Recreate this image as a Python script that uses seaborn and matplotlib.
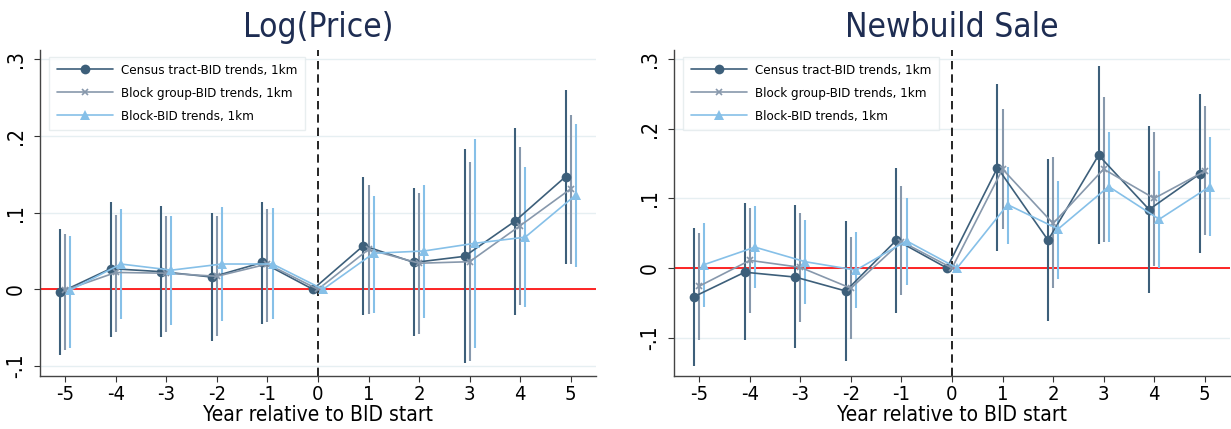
import numpy as np
import pandas as pd
import matplotlib
matplotlib.use("Agg")
import matplotlib.pyplot as plt
import seaborn as sns

years = [-5, -4, -3, -2, -1, 0, 1, 2, 3, 4, 5]
series_names = ["Census tract-BID trends, 1km",
                "Block group-BID trends, 1km",
                "Block-BID trends, 1km"]

# Log(Price) panel: point estimate, CI low, CI high (NaN = no CI at year 0)
price_tract = [-0.004, 0.027, 0.023, 0.016, 0.035, 0.0, 0.057, 0.035, 0.043, 0.089, 0.147]
price_tract_lo = [-0.086, -0.062, -0.062, -0.067, -0.045, np.nan, -0.033, -0.061, -0.096, -0.033, 0.033]
price_tract_hi = [0.079, 0.114, 0.108, 0.100, 0.114, np.nan, 0.147, 0.132, 0.183, 0.210, 0.260]

price_group = [-0.001, 0.022, 0.021, 0.017, 0.033, 0.0, 0.052, 0.034, 0.036, 0.083, 0.131]
price_group_lo = [-0.079, -0.055, -0.055, -0.061, -0.042, np.nan, -0.032, -0.058, -0.094, -0.021, 0.033]
price_group_hi = [0.072, 0.097, 0.096, 0.096, 0.105, np.nan, 0.136, 0.125, 0.166, 0.186, 0.227]

price_block = [-0.001, 0.033, 0.025, 0.033, 0.033, 0.0, 0.047, 0.050, 0.060, 0.068, 0.123]
price_block_lo = [-0.076, -0.039, -0.047, -0.041, -0.039, np.nan, -0.031, -0.038, -0.076, -0.023, 0.029]
price_block_hi = [0.070, 0.105, 0.096, 0.107, 0.106, np.nan, 0.122, 0.136, 0.196, 0.159, 0.216]

# Newbuild Sale panel
new_tract = [-0.041, -0.006, -0.013, -0.033, 0.040, 0.0, 0.144, 0.040, 0.162, 0.084, 0.135]
new_tract_lo = [-0.141, -0.103, -0.115, -0.134, -0.064, np.nan, 0.025, -0.076, 0.034, -0.036, 0.022]
new_tract_hi = [0.058, 0.093, 0.090, 0.068, 0.144, np.nan, 0.264, 0.156, 0.290, 0.204, 0.250]

new_group = [-0.026, 0.011, 0.001, -0.029, 0.038, 0.0, 0.142, 0.064, 0.142, 0.100, 0.139]
new_group_lo = [-0.103, -0.065, -0.077, -0.102, -0.039, np.nan, 0.056, -0.029, 0.038, 0.003, 0.047]
new_group_hi = [0.051, 0.086, 0.079, 0.044, 0.118, np.nan, 0.229, 0.159, 0.245, 0.195, 0.233]

new_block = [0.005, 0.030, 0.009, -0.003, 0.039, 0.0, 0.091, 0.056, 0.117, 0.070, 0.117]
new_block_lo = [-0.056, -0.029, -0.052, -0.058, -0.025, np.nan, 0.035, -0.016, 0.038, 0.000, 0.046]
new_block_hi = [0.064, 0.089, 0.069, 0.052, 0.101, np.nan, 0.145, 0.125, 0.195, 0.139, 0.188]

ytick_vals = [-0.1, 0, 0.1, 0.2, 0.3]
ytick_labels = ["-.1", "0", ".1", ".2", ".3"]

colors = ["#3d5f7a", "#8798ac", "#86c0e8"]
markers = ["o", "x", "^"]
msizes = [7, 4, 7.5]
offsets = [-0.1, 0.0, 0.1]
title_color = "#1e2d52"

sns.set_style("white")
plt.rcParams["font.family"] = ["DejaVu Sans"]
plt.rcParams["font.stretch"] = "condensed"
plt.rcParams["text.color"] = "black"
plt.rcParams["axes.labelcolor"] = "black"
plt.rcParams["xtick.color"] = "black"
plt.rcParams["ytick.color"] = "black"


def draw_panel(ax, title, est, lo, hi, ylim):
    for i, name in enumerate(series_names):
        df = pd.DataFrame({"x": np.array(years) + offsets[i], "y": est[i],
                           "lo": lo[i], "hi": hi[i]})
        ci = df.dropna()
        ax.vlines(ci["x"], ci["lo"], ci["hi"], color=colors[i], lw=1.5, zorder=2)
        sns.lineplot(data=df, x="x", y="y", ax=ax, color=colors[i], marker=markers[i],
                     markersize=msizes[i], markeredgewidth=1.2 if i == 1 else 0,
                     markeredgecolor=colors[i], lw=1.2, label=name, zorder=3,
                     sort=False)
    ax.axhline(0, color="red", lw=1.2, zorder=1)
    ax.axvline(0, color="black", lw=1.2, ls=(0, (5, 3)), zorder=1)
    ax.set_xlim(-5.5, 5.5)
    ax.set_ylim(*ylim)
    ax.set_xticks(years)
    ax.set_xticklabels([str(v) for v in years], fontsize=14.5)
    ax.set_yticks(ytick_vals)
    ax.set_yticklabels(ytick_labels, rotation=90, va="center", fontsize=15)
    ax.tick_params(axis="both", length=4.3, width=0.8, color="#333333", direction="out")
    ax.tick_params(axis="x", bottom=True, pad=2)
    ax.tick_params(axis="y", left=True, pad=6)
    ax.grid(axis="y", color="#e6eff2", lw=1.0)
    ax.set_axisbelow(True)
    for side in ["top", "right"]:
        ax.spines[side].set_visible(False)
    for side in ["left", "bottom"]:
        ax.spines[side].set_color("#444444")
        ax.spines[side].set_linewidth(1.0)
    ax.set_xlabel("Year relative to BID start", fontsize=15)
    ax.xaxis.set_label_coords(0.5, -0.089)
    ax.set_ylabel("")
    ax.set_title(title, fontsize=24, color=title_color, pad=9.5)
    leg = ax.legend(loc="upper left", fontsize=9.5, frameon=True, fancybox=False,
                    handlelength=4.3, handletextpad=0.6, borderpad=0.55,
                    labelspacing=0.75, bbox_to_anchor=(0.005, 1.0))
    leg.get_frame().set_edgecolor("#e3eaec")
    leg.get_frame().set_linewidth(1.0)


fig = plt.figure(figsize=(12.31, 4.29), dpi=100)
ax1 = fig.add_axes([40 / 1231, 53 / 429, 556 / 1231, 326 / 429])
ax2 = fig.add_axes([674 / 1231, 53 / 429, 556 / 1231, 326 / 429])

draw_panel(ax1, "Log(Price)",
           [price_tract, price_group, price_block],
           [price_tract_lo, price_group_lo, price_block_lo],
           [price_tract_hi, price_group_hi, price_block_hi],
           (-0.113, 0.312))
draw_panel(ax2, "Newbuild Sale",
           [new_tract, new_group, new_block],
           [new_tract_lo, new_group_lo, new_block_lo],
           [new_tract_hi, new_group_hi, new_block_hi],
           (-0.155, 0.313))

fig.savefig("out.png", dpi=100)
